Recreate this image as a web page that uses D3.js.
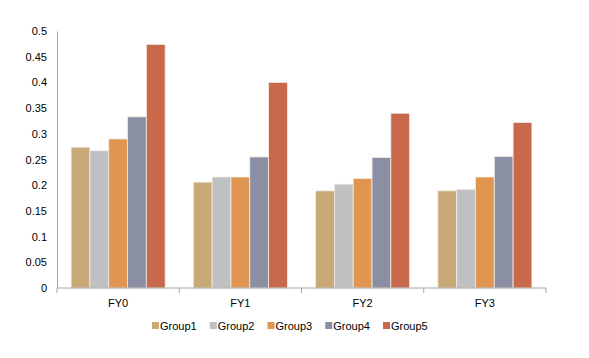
<!DOCTYPE html>
<html><head><meta charset="utf-8">
<script src="https://cdn.jsdelivr.net/npm/d3@7"></script>
<style>body{margin:0;background:#fff}text{font-family:"Liberation Sans",Arial,sans-serif}</style>
</head><body><svg width="589" height="358"></svg>
<script>
const categories = ["FY0","FY1","FY2","FY3"];
const groups = ["Group1","Group2","Group3","Group4","Group5"];
const group1 = [0.274,0.206,0.189,0.189];
const group2 = [0.267,0.216,0.202,0.192];
const group3 = [0.290,0.216,0.213,0.216];
const group4 = [0.333,0.255,0.254,0.256];
const group5 = [0.474,0.400,0.340,0.322];
const yTicks = [0,0.05,0.1,0.15,0.2,0.25,0.3,0.35,0.4,0.45,0.5];
const colors = ["#CAA979","#BFC0C2","#E09651","#8A8FA4","#C8694B"];
const seriesVals = [group1,group2,group3,group4,group5];

const svg = d3.select("svg");
const x0 = d3.scaleBand().domain(categories).range([57,546]).paddingInner(0).paddingOuter(0);
const x1 = d3.scaleBand().domain(groups).range([0,x0.bandwidth()]).paddingOuter(0.75).paddingInner(0);
const y = d3.scaleLinear().domain([0,0.5]).range([288,31]);

// bars
categories.forEach((c,i)=>{
  const g = svg.append("g").attr("transform",`translate(${x0(c)},0)`);
  groups.forEach((gr,j)=>{
    g.append("rect").attr("x",x1(gr)).attr("y",y(seriesVals[j][i]))
     .attr("width",x1.bandwidth()).attr("height",y(0)-y(seriesVals[j][i]))
     .attr("fill",colors[j]).attr("stroke","#f3ece6").attr("stroke-width",0.8);
  });
});

// y axis
const yAxis = d3.axisLeft(y).tickValues(yTicks).tickSize(0).tickPadding(10).tickFormat(d=>String(d));
const ya = svg.append("g").attr("transform","translate(57,0)").call(yAxis);
ya.select(".domain").attr("stroke","#A6A6A6");
ya.selectAll("text").attr("font-size",11).attr("fill","#000").attr("font-family","Liberation Sans, Arial, sans-serif");

// x axis
const xa = svg.append("g").attr("transform","translate(0,288)");
xa.append("line").attr("x1",57).attr("x2",546).attr("y1",0).attr("y2",0).attr("stroke","#A6A6A6");
const bounds = categories.map(c=>x0(c)).concat([x0.range()[1]]);
xa.selectAll("line.tk").data(bounds).enter().append("line").attr("class","tk")
  .attr("x1",d=>d).attr("x2",d=>d).attr("y1",0).attr("y2",5).attr("stroke","#A6A6A6");
xa.selectAll("text").data(categories).enter().append("text")
  .attr("x",d=>x0(d)+x0.bandwidth()/2).attr("y",19).attr("text-anchor","middle")
  .attr("font-size",11).attr("fill","#000").text(d=>d);

// legend
const leg = svg.append("g");
const legX = d3.scalePoint().domain(groups).range([152,383]);
groups.forEach((gr,j)=>{
  leg.append("rect").attr("x",legX(gr)).attr("y",322).attr("width",7).attr("height",7).attr("fill",colors[j]);
  leg.append("text").attr("x",legX(gr)+8).attr("y",330).attr("font-size",11).attr("fill","#000").text(gr);
});
</script></body></html>
